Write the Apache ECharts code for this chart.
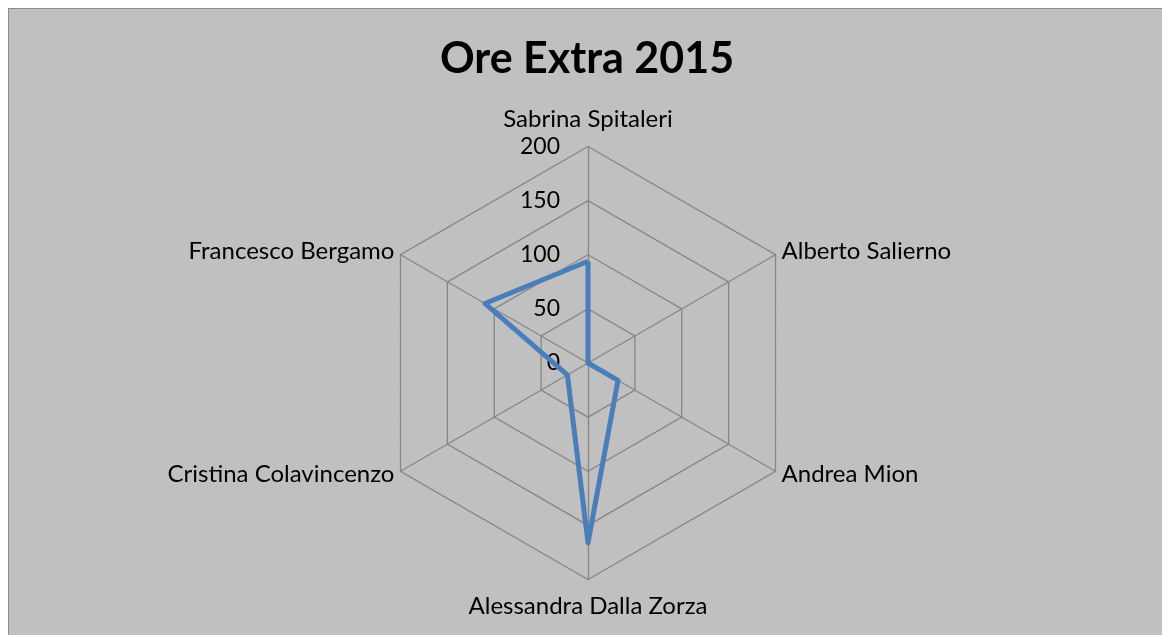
<!DOCTYPE html>
<html>
<head>
<meta charset="utf-8">
<script src="https://cdn.jsdelivr.net/npm/echarts@6/dist/echarts.min.js"></script>
<style>
html,body{margin:0;padding:0;background:#ffffff;}
#frame{position:absolute;left:8px;top:8px;width:1154px;height:627px;background:#c0c0c0;border-left:1px solid #8c8c8c;border-top:1px solid #8c8c8c;}
#chart{position:absolute;left:0;top:0;width:1162px;height:635px;}
</style>
</head>
<body>
<div id="frame"></div>
<div id="chart"></div>
<script>
const categories = ["Sabrina Spitaleri", "Alberto Salierno", "Andrea Mion", "Alessandra Dalla Zorza", "Cristina Colavincenzo", "Francesco Bergamo"];
const values = [94, 0, 32, 166, 22, 110];
const axisMax = 200;
const tickCount = 4;

// ECharts radar goes counter-clockwise; reference goes clockwise from top.
const order = [0, 5, 4, 3, 2, 1];
const indicator = order.map((i, k) => {
  const ind = { name: categories[i], max: axisMax, min: 0 };
  if (k === 0) ind.axisLabel = { show: true };
  return ind;
});
const data = order.map(i => values[i]);

const chart = echarts.init(document.getElementById('chart'));
chart.setOption({
  backgroundColor: 'transparent',
  animation: false,
  title: {
    text: 'Ore Extra 2015',
    left: 582,
    textAlign: 'center',
    top: 33,
    textStyle: { fontFamily: 'Lato', fontWeight: 'bold', fontSize: 43, color: '#000' }
  },
  radar: {
    center: [588, 363],
    radius: 216.5,
    startAngle: 90,
    splitNumber: tickCount,
    shape: 'polygon',
    indicator: indicator,
    nameGap: 7,
    axisName: {
      color: '#000',
      fontFamily: 'Lato',
      fontSize: 24,
      padding: [8, 0, 8, 0]
    },
    axisLine: { lineStyle: { color: '#868686', width: 1.3 } },
    splitLine: { lineStyle: { color: '#868686', width: 1.3 } },
    splitArea: { show: false },
    axisTick: { show: false },
    axisLabel: {
      show: false,
      color: '#000',
      fontFamily: 'Lato',
      fontSize: 23,
      margin: 28
    }
  },
  series: [{
    type: 'radar',
    symbol: 'none',
    lineStyle: { color: '#4a7ebb', width: 5 },
    itemStyle: { color: '#4a7ebb' },
    data: [{ value: data, name: 'Ore Extra 2015' }]
  }]
});
</script>
</body>
</html>
